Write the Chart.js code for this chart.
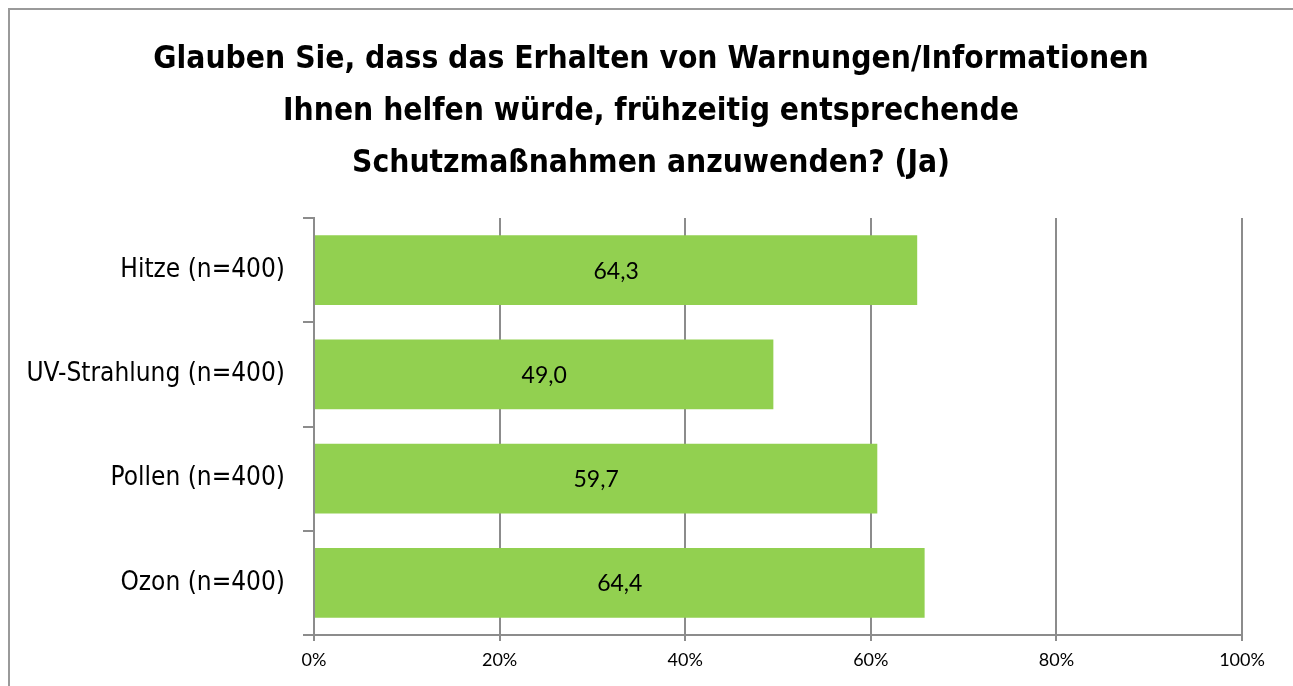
<!DOCTYPE html>
<html>
<head>
<meta charset="utf-8">
<script src="https://cdn.jsdelivr.net/npm/chart.js@4"></script>
<style>
  html, body { margin: 0; padding: 0; background: #fff; overflow: hidden; }
  .frame { position: absolute; left: 8px; top: 8px; width: 1400px; height: 800px; border: 2px solid #9a9a9a; box-sizing: border-box; }
  .wrap { position: absolute; left: 0; top: 0; width: 1293px; height: 686px; }
</style>
</head>
<body>
<div class="frame"></div>
<div class="wrap"><canvas id="myChart" width="1293" height="686"></canvas></div>
<script>
const titleLines = [
    "Glauben Sie, dass das Erhalten von Warnungen/Informationen",
    "Ihnen helfen würde, frühzeitig entsprechende",
    "Schutzmaßnahmen anzuwenden? (Ja)"
];
const categories = ["Hitze (n=400)", "UV-Strahlung (n=400)", "Pollen (n=400)", "Ozon (n=400)"];
// bar lengths as drawn in the picture (percent)
const barValues = [65.0, 49.5, 60.7, 65.8];
// value labels printed inside the bars
const valueLabels = ["64,3", "49,0", "59,7", "64,4"];
const tickLabels = ["0%", "20%", "40%", "60%", "80%", "100%"];

const gridColor = "#8c8c8c";
const barColor = "#92d050";
const narrow = "'DejaVu Sans Condensed', sans-serif";

// title drawn by hand so it can sit centred over the whole frame
const titlePlugin = {
    id: "titleLines",
    afterDraw(chart) {
        const ctx = chart.ctx;
        ctx.save();
        ctx.font = "bold 31.5px " + narrow;
        ctx.fillStyle = "#000";
        ctx.textAlign = "center";
        ctx.textBaseline = "middle";
        titleLines.forEach((line, i) => {
            ctx.fillText(line, 651, 60 + i * 52);
        });
        ctx.restore();
    }
};

// simple plugin to write the value inside each bar
const barLabels = {
    id: "barLabels",
    afterDatasetsDraw(chart) {
        const ctx = chart.ctx;
        const meta = chart.getDatasetMeta(0);
        ctx.save();
        ctx.font = "23px Lato";
        ctx.fillStyle = "#000";
        ctx.textAlign = "center";
        ctx.textBaseline = "middle";
        meta.data.forEach((bar, i) => {
            let cx = (bar.x + bar.base) / 2;
            ctx.fillText(valueLabels[i], cx, bar.y + 1);
        });
        ctx.restore();
    }
};

const ctx = document.getElementById("myChart").getContext("2d");
new Chart(ctx, {
    type: "bar",
    data: {
        labels: categories,
        datasets: [{
            data: barValues,
            backgroundColor: barColor,
            borderWidth: 0,
            categoryPercentage: 1,
            barPercentage: 0.67
        }]
    },
    options: {
        indexAxis: "y",
        responsive: false,
        animation: false,
        layout: { padding: { left: 0, right: 51, top: 218, bottom: 0 } },
        plugins: {
            legend: { display: false },
            tooltip: { enabled: false },
            title: { display: false }
        },
        scales: {
            x: {
                min: 0,
                max: 100,
                afterFit: (scale) => { scale.height = 51; },
                afterBuildTicks: (scale) => {
                    scale.ticks = tickLabels.map((t, i) => ({ value: i * 20 }));
                },
                ticks: {
                    callback: (v, i) => tickLabels[i],
                    color: "#000",
                    font: { family: "Lato", size: 18 },
                    padding: 8,
                    maxRotation: 0
                },
                grid: { color: gridColor, lineWidth: 2, tickLength: 6 },
                border: { color: gridColor, width: 2 }
            },
            y: {
                afterFit: (scale) => { scale.width = 314; },
                ticks: {
                    color: "#000",
                    font: { family: narrow, size: 26 },
                    padding: 18
                },
                grid: { drawOnChartArea: false, color: gridColor, lineWidth: 2, tickLength: 11, offset: true },
                border: { color: gridColor, width: 2 }
            }
        }
    },
    plugins: [barLabels, titlePlugin]
});
</script>
</body>
</html>
